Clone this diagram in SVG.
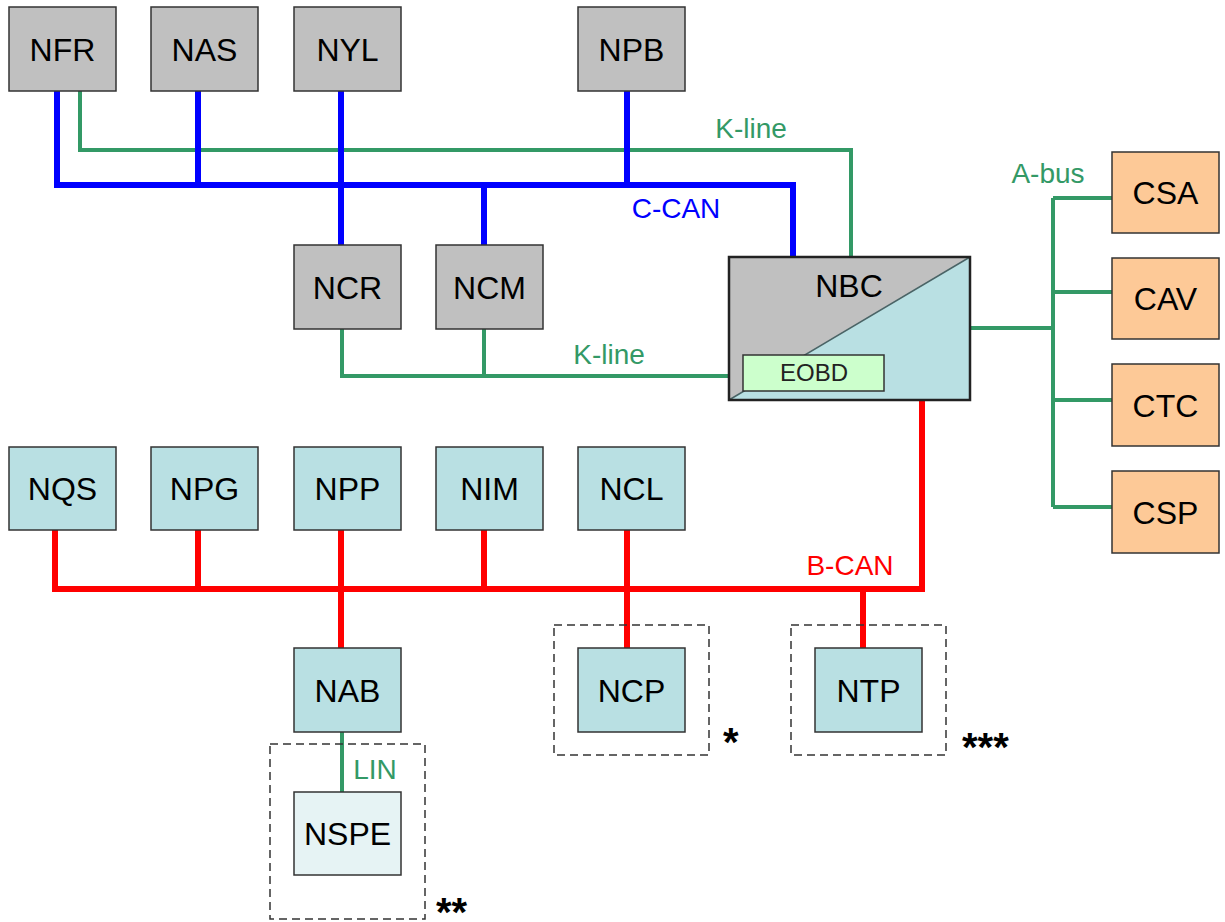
<svg xmlns="http://www.w3.org/2000/svg" width="1225" height="922" viewBox="0 0 1225 922">
<style>
.box{stroke:#333;stroke-width:1.5}
.g{fill:#c0c0c0}
.b{fill:#b9e0e3}
.o{fill:#fdc997}
.lbl{font-family:"Liberation Sans",Arial,sans-serif;font-size:32px;fill:#000;text-anchor:middle}
.bus{font-family:"Liberation Sans",Arial,sans-serif;font-size:28px;text-anchor:middle}
.blue{fill:none;stroke:#0000ff;stroke-width:6}
.red{fill:none;stroke:#ff0000;stroke-width:6}
.grn{fill:none;stroke:#339966;stroke-width:4}
.dash{fill:none;stroke:#333;stroke-width:1.5;stroke-dasharray:8,5}
.ast{font-family:"Liberation Sans",Arial,sans-serif;font-size:40px;font-weight:bold;fill:#000}
</style>
<rect width="1225" height="922" fill="#fff"/>
<g id="connectors">
<path class="grn" d="M80 91 V150 H851 V257"/>
<path class="blue" d="M57 91 V185 H793 V257 M198 91 V185 M341 91 V245 M627 91 V185 M484 185 V245"/>
<path class="grn" d="M342 329 V376 H729 M484 329 V376"/>
<path class="grn" d="M970 328 H1053 M1053 198 V507 M1053 198 H1112 M1053 292 H1112 M1053 400 H1112 M1053 507 H1112"/>
<path class="red" d="M922 400 V589 H55 V530 M198 530 V589 M341 530 V648 M484 530 V589 M627 529 V648 M863 589 V648"/>
<path class="grn" d="M342 732 V792"/>
<text class="bus" x="751" y="138" fill="#339966">K-line</text>
<text class="bus" x="609" y="364" fill="#339966">K-line</text>
<text class="bus" x="676" y="218" fill="#0000ff" font-size="29">C-CAN</text>
<text class="bus" x="850" y="575" fill="#ff0000" font-size="29">B-CAN</text>
<text class="bus" x="1048" y="183" fill="#339966">A-bus</text>
<text class="bus" x="375" y="779" fill="#339966">LIN</text>
</g>
<g id="groups">
<rect class="dash" x="270" y="744" width="155" height="175"/>
<rect class="dash" x="554" y="625" width="155" height="130"/>
<rect class="dash" x="791" y="625" width="155" height="130"/>
<text class="ast" x="436" y="926">**</text>
<text class="ast" x="723" y="756">*</text>
<text class="ast" x="962" y="761">***</text>
</g>
<g id="NFR"><rect class="box g" x="9" y="7" width="107" height="84"/><text class="lbl" x="62.5" y="61">NFR</text></g>
<g id="NAS"><rect class="box g" x="151" y="7" width="107" height="84"/><text class="lbl" x="204.5" y="61">NAS</text></g>
<g id="NYL"><rect class="box g" x="294" y="7" width="107" height="84"/><text class="lbl" x="347.5" y="61">NYL</text></g>
<g id="NPB"><rect class="box g" x="578" y="7" width="107" height="84"/><text class="lbl" x="631.5" y="61">NPB</text></g>
<g id="NCR"><rect class="box g" x="294" y="245" width="107" height="84"/><text class="lbl" x="347.5" y="299">NCR</text></g>
<g id="NCM"><rect class="box g" x="436" y="245" width="107" height="84"/><text class="lbl" x="489.5" y="299">NCM</text></g>
<g id="NBC">
<rect class="box b" x="729" y="257" width="241" height="143"/>
<polygon fill="#c0c0c0" points="729,257 970,257 729,400"/>
<line x1="729" y1="400" x2="970" y2="257" stroke="#4a6466" stroke-width="1.5"/>
<rect x="729" y="257" width="241" height="143" fill="none" stroke="#222" stroke-width="2.5"/>
<text class="lbl" x="849" y="297">NBC</text>
<g id="EOBD"><rect x="743" y="355" width="141" height="36" fill="#ccffcc" stroke="#333" stroke-width="1.5"/><text x="814" y="381" font-family="'Liberation Sans',Arial,sans-serif" font-size="24" fill="#222" text-anchor="middle">EOBD</text></g>
</g>
<g id="CSA"><rect class="box o" x="1112" y="152" width="107" height="81"/><text class="lbl" x="1165.5" y="204">CSA</text></g>
<g id="CAV"><rect class="box o" x="1112" y="258" width="107" height="81"/><text class="lbl" x="1165.5" y="310">CAV</text></g>
<g id="CTC"><rect class="box o" x="1112" y="364" width="107" height="82"/><text class="lbl" x="1165.5" y="417">CTC</text></g>
<g id="CSP"><rect class="box o" x="1112" y="471" width="107" height="82"/><text class="lbl" x="1165.5" y="524">CSP</text></g>
<g id="NQS"><rect class="box b" x="9" y="447" width="107" height="83"/><text class="lbl" x="62.5" y="500">NQS</text></g>
<g id="NPG"><rect class="box b" x="151" y="447" width="107" height="83"/><text class="lbl" x="204.5" y="500">NPG</text></g>
<g id="NPP"><rect class="box b" x="294" y="447" width="107" height="83"/><text class="lbl" x="347.5" y="500">NPP</text></g>
<g id="NIM"><rect class="box b" x="436" y="447" width="107" height="83"/><text class="lbl" x="489.5" y="500">NIM</text></g>
<g id="NCL"><rect class="box b" x="578" y="447" width="107" height="83"/><text class="lbl" x="631.5" y="500">NCL</text></g>
<g id="NAB"><rect class="box b" x="294" y="648" width="107" height="84"/><text class="lbl" x="347.5" y="702">NAB</text></g>
<g id="NCP"><rect class="box b" x="578" y="648" width="107" height="84"/><text class="lbl" x="631.5" y="702">NCP</text></g>
<g id="NTP"><rect class="box b" x="815" y="648" width="107" height="84"/><text class="lbl" x="868.5" y="702">NTP</text></g>
<g id="NSPE"><rect class="box" fill="#e6f3f4" x="294" y="792" width="107" height="83"/><text class="lbl" x="347.5" y="845">NSPE</text></g>
</svg>
